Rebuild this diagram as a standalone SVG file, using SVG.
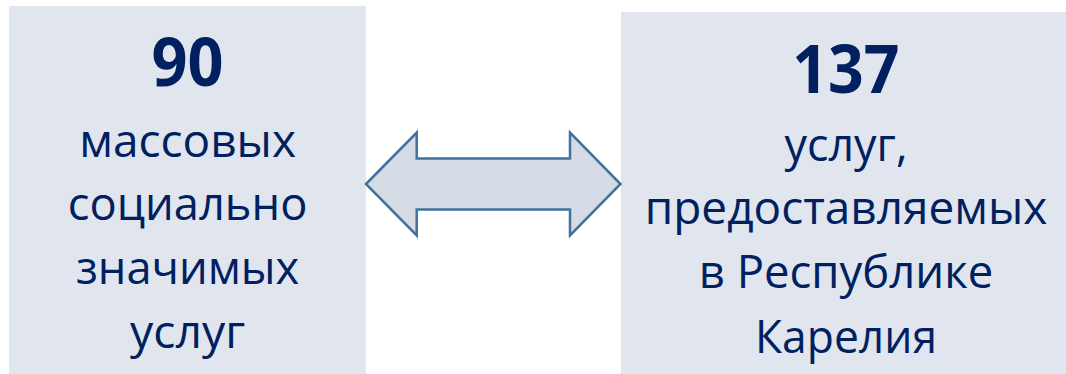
<svg xmlns="http://www.w3.org/2000/svg" width="1066" height="374" viewBox="0 0 1066 374">
<style>
.box{fill:#E1E5EE;}
.num{font-family:"Open Sans","Noto Sans",sans-serif;font-weight:700;font-size:66px;fill:#002060;text-anchor:middle;}
.txt{font-family:"Open Sans","Noto Sans",sans-serif;font-size:45px;fill:#002060;text-anchor:middle;}
.arrow{fill:#D6DCE5;stroke:#41719C;stroke-width:2.5;stroke-linejoin:miter;}
</style>
<rect width="1066" height="374" fill="#FFFFFF"/>
<g id="node-left">
<rect class="box" x="9" y="6" width="357" height="368"/>
<text class="num" x="187.6" y="86" textLength="72" lengthAdjust="spacingAndGlyphs">90</text>
<text class="txt" x="187.6" y="156.5" textLength="216.7" lengthAdjust="spacingAndGlyphs">массовых</text>
<text class="txt" x="187.6" y="220" textLength="239.7" lengthAdjust="spacingAndGlyphs">социально</text>
<text class="txt" x="187.6" y="284" textLength="223.3" lengthAdjust="spacingAndGlyphs">значимых</text>
<text class="txt" x="187.6" y="348" textLength="115" lengthAdjust="spacingAndGlyphs">услуг</text>
</g>
<g id="node-right">
<rect class="box" x="621" y="12" width="445" height="362"/>
<text class="num" x="846" y="92.5" textLength="107.3" lengthAdjust="spacingAndGlyphs">137</text>
<text class="txt" x="846" y="161" textLength="123" lengthAdjust="spacingAndGlyphs">услуг,</text>
<text class="txt" x="846" y="223.5" textLength="402.5" lengthAdjust="spacingAndGlyphs">предоставляемых</text>
<text class="txt" x="846" y="288" textLength="294.3" lengthAdjust="spacingAndGlyphs">в Республике</text>
<text class="txt" x="846" y="352.7" textLength="182" lengthAdjust="spacingAndGlyphs">Карелия</text>
</g>
<g id="connectors">
<polygon class="arrow" points="366,184 416.7,132.5 416.7,158.5 570,158.5 570,132.5 620.5,184 570,235.5 570,209.5 416.7,209.5 416.7,235.5"/>
</g>
</svg>
